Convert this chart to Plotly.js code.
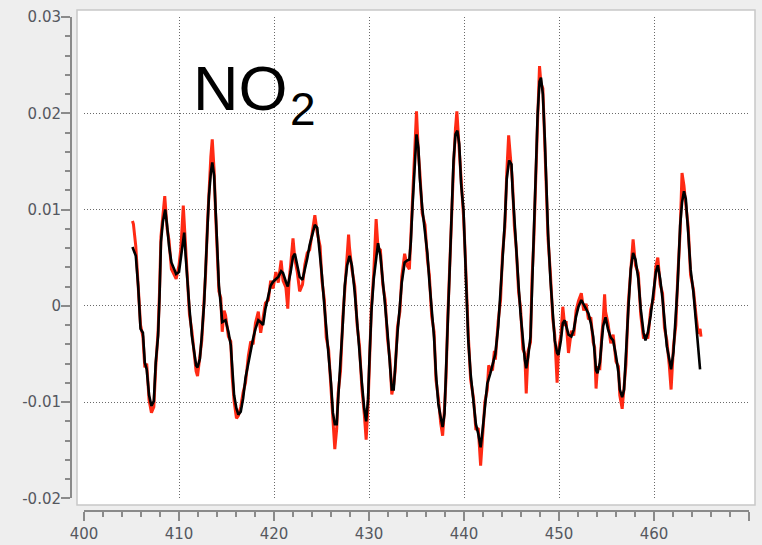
<!DOCTYPE html>
<html>
<head>
<meta charset="utf-8">
<script src="https://cdn.plot.ly/plotly-3.0.1.min.js"></script>
<style>
  html, body { margin: 0; padding: 0; background: #eeeeee; }
  #chart { width: 762px; height: 545px; }
</style>
</head>
<body>
<div id="chart"></div>
<script>
// NO2 differential optical depth: measured spectrum (red) and fitted reference (black)
const wlMeasured = [
  405.1, 405.2, 405.45, 405.7, 405.85, 405.95, 406.2, 406.4, 406.6, 406.85, 407.1, 407.35, 407.55, 407.8, 407.95,
  408.1, 408.3, 408.5, 408.75, 408.95, 409.2, 409.45, 409.7, 410.0, 410.2, 410.45, 410.6, 410.75, 410.9, 411.1,
  411.35, 411.6, 411.8, 411.95, 412.2, 412.4, 412.65, 412.8, 413.0, 413.15, 413.35, 413.5, 413.7, 413.85, 414.05,
  414.2, 414.4, 414.55, 414.75, 414.9, 415.2, 415.45, 415.6, 415.8, 416.05, 416.25, 416.5, 416.75, 417.0, 417.3,
  417.55, 417.8, 418.05, 418.35, 418.6, 418.85, 419.1, 419.4, 419.65, 419.9, 420.2, 420.45, 420.75, 420.95, 421.25,
  421.45, 421.6, 421.75, 422.0, 422.2, 422.45, 422.7, 423.0, 423.25, 423.5, 423.75, 424.05, 424.3, 424.55, 424.85,
  425.05, 425.3, 425.5, 425.75, 426.0, 426.2, 426.4, 426.6, 426.75, 427.0, 427.25, 427.45, 427.7, 427.85, 427.95,
  428.2, 428.5, 428.75, 429.0, 429.25, 429.5, 429.7, 429.9, 430.05, 430.25, 430.5, 430.75, 430.95, 431.2, 431.45,
  431.7, 431.95, 432.2, 432.4, 432.6, 432.75, 433.0, 433.25, 433.45, 433.75, 434.0, 434.25, 434.4, 434.55, 434.7,
  434.85, 435.0, 435.2, 435.35, 435.6, 435.9, 436.15, 436.35, 436.6, 436.85, 437.05, 437.3, 437.55, 437.75, 437.95,
  438.1, 438.3, 438.45, 438.7, 438.9, 439.1, 439.25, 439.5, 439.7, 439.95, 440.1, 440.3, 440.45, 440.7, 441.0,
  441.25, 441.5, 441.75, 441.95, 442.2, 442.45, 442.6, 442.75, 443.0, 443.2, 443.3, 443.6, 443.85, 444.05, 444.3,
  444.5, 444.7, 445.0, 445.1, 445.3, 445.5, 445.75, 445.95, 446.2, 446.4, 446.55, 446.75, 447.0, 447.15, 447.35,
  447.6, 447.75, 447.95, 448.1, 448.3, 448.5, 448.65, 448.85, 449.1, 449.35, 449.55, 449.8, 449.95, 450.2, 450.4,
  450.6, 450.75, 451.0, 451.3, 451.55, 451.8, 452.05, 452.35, 452.6, 452.85, 453.1, 453.35, 453.6, 453.75, 453.9,
  454.05, 454.3, 454.5, 454.65, 454.8, 454.9, 455.15, 455.45, 455.7, 456.0, 456.25, 456.4, 456.65, 456.85, 457.05,
  457.3, 457.55, 457.8, 458.05, 458.35, 458.6, 458.9, 459.1, 459.35, 459.65, 459.95, 460.2, 460.4, 460.65, 460.9,
  461.1, 461.35, 461.6, 461.8, 462.05, 462.3, 462.5, 462.75, 462.95, 463.15, 463.35, 463.6, 463.85, 464.15, 464.4,
  464.65, 464.85, 464.95
];
const odMeasured = [
  0.0088, 0.0085, 0.0062, 0.0025, -0.0008, -0.0020, -0.0032, -0.0064, -0.0060, -0.0098, -0.0111, -0.0105, -0.0064, -0.0026, 0.0015,
  0.0072, 0.0093, 0.0114, 0.0080, 0.0068, 0.0038, 0.0032, 0.0028, 0.0042, 0.0060, 0.0104, 0.0080, 0.0046, 0.0026, -0.0009,
  -0.0026, -0.0054, -0.0068, -0.0073, -0.0050, -0.0036, 0.0008, 0.0033, 0.0086, 0.0120, 0.0155, 0.0173, 0.0140, 0.0096, 0.0057,
  0.0015, 0.0008, -0.0027, -0.0005, -0.0010, -0.0032, -0.0037, -0.0074, -0.0099, -0.0117, -0.0114, -0.0105, -0.0090, -0.0080, -0.0052,
  -0.0037, -0.0040, -0.0018, -0.0006, -0.0028, -0.0014, 0.0003, 0.0006, 0.0026, 0.0018, 0.0035, 0.0024, 0.0047, 0.0026, 0.0019,
  -0.0003, 0.0028, 0.0042, 0.0070, 0.0048, 0.0035, 0.0015, 0.0022, 0.0043, 0.0055, 0.0058, 0.0079, 0.0094, 0.0076, 0.0062,
  0.0026, 0.0006, -0.0033, -0.0046, -0.0086, -0.0116, -0.0149, -0.0128, -0.0091, -0.0068, -0.0011, 0.0016, 0.0050, 0.0074, 0.0060,
  0.0038, 0.0020, -0.0020, -0.0042, -0.0086, -0.0112, -0.0139, -0.0103, -0.0049, -0.0002, 0.0034, 0.0090, 0.0060, 0.0058, 0.0022,
  0.0006, -0.0034, -0.0056, -0.0092, -0.0082, -0.0068, -0.0022, -0.0006, 0.0030, 0.0054, 0.0042, 0.0038, 0.0072, 0.0104, 0.0134,
  0.0164, 0.0202, 0.0158, 0.0139, 0.0096, 0.0084, 0.0048, 0.0032, -0.0011, -0.0027, -0.0077, -0.0096, -0.0122, -0.0135, -0.0106,
  -0.0077, -0.0010, 0.0027, 0.0108, 0.0145, 0.0184, 0.0202, 0.0162, 0.0132, 0.0093, 0.0060, 0.0003, -0.0030, -0.0077, -0.0096,
  -0.0129, -0.0127, -0.0166, -0.0136, -0.0100, -0.0087, -0.0062, -0.0065, -0.0067, -0.0047, -0.0056, -0.0016, 0.0006, 0.0053, 0.0082,
  0.0138, 0.0177, 0.0141, 0.0129, 0.0083, 0.0060, 0.0014, -0.0002, -0.0045, -0.0050, -0.0091, -0.0047, -0.0038, 0.0026, 0.0069,
  0.0157, 0.0193, 0.0249, 0.0231, 0.0226, 0.0169, 0.0129, 0.0069, 0.0033, -0.0014, -0.0030, -0.0080, -0.0045, -0.0030, -0.0001,
  -0.0021, -0.0016, -0.0049, -0.0026, -0.0031, -0.0005, 0.0005, 0.0013, -0.0005, 0.0002, -0.0014, -0.0012, -0.0038, -0.0043, -0.0086,
  -0.0064, -0.0065, -0.0031, -0.0015, 0.0012, -0.0006, -0.0018, -0.0039, -0.0030, -0.0058, -0.0063, -0.0093, -0.0107, -0.0081, -0.0061,
  0.0003, 0.0032, 0.0069, 0.0042, 0.0034, -0.0009, -0.0034, -0.0030, -0.0034, -0.0004, 0.0008, 0.0041, 0.0050, 0.0022, 0.0013,
  -0.0023, -0.0036, -0.0061, -0.0087, -0.0042, -0.0020, 0.0030, 0.0077, 0.0138, 0.0125, 0.0105, 0.0082, 0.0032, 0.0017, -0.0008,
  -0.0029, -0.0024, -0.0032
];

const wlFit = [
  405.1, 405.45, 405.7, 405.85, 405.95, 406.2, 406.4, 406.6, 406.85, 407.1, 407.35, 407.55, 407.8, 407.95, 408.1,
  408.3, 408.55, 408.75, 408.95, 409.2, 409.45, 409.7, 410.0, 410.2, 410.4, 410.55, 410.7, 410.9, 411.1, 411.35,
  411.6, 411.8, 411.95, 412.2, 412.4, 412.65, 412.8, 413.0, 413.15, 413.35, 413.5, 413.7, 413.85, 414.05, 414.2,
  414.4, 414.55, 414.9, 415.2, 415.45, 415.6, 415.8, 416.05, 416.25, 416.5, 416.75, 417.0, 417.3, 417.55, 417.8,
  418.05, 418.35, 418.6, 418.85, 419.1, 419.4, 419.65, 419.9, 420.2, 420.45, 420.75, 420.95, 421.25, 421.45, 421.75,
  422.0, 422.2, 422.45, 422.7, 423.0, 423.25, 423.5, 423.75, 424.05, 424.3, 424.55, 424.85, 425.05, 425.3, 425.5,
  425.75, 426.0, 426.2, 426.4, 426.6, 426.75, 427.0, 427.25, 427.45, 427.7, 427.95, 428.2, 428.5, 428.75, 429.0,
  429.25, 429.5, 429.7, 429.9, 430.05, 430.25, 430.5, 430.75, 430.95, 431.2, 431.45, 431.7, 431.95, 432.2, 432.4,
  432.6, 432.75, 433.0, 433.25, 433.45, 433.75, 434.0, 434.25, 434.4, 434.55, 434.7, 434.85, 435.0, 435.2, 435.35,
  435.6, 435.9, 436.15, 436.35, 436.6, 436.85, 437.05, 437.3, 437.55, 437.75, 437.95, 438.1, 438.3, 438.45, 438.7,
  438.9, 439.1, 439.3, 439.5, 439.7, 439.95, 440.1, 440.3, 440.45, 440.7, 441.0, 441.25, 441.5, 441.75, 441.95,
  442.2, 442.45, 442.75, 443.0, 443.3, 443.6, 443.85, 444.05, 444.3, 444.5, 444.75, 445.0, 445.1, 445.3, 445.5,
  445.75, 445.95, 446.2, 446.4, 446.55, 446.75, 447.0, 447.15, 447.35, 447.6, 447.75, 447.95, 448.1, 448.3, 448.5,
  448.65, 448.85, 449.1, 449.35, 449.55, 449.8, 449.95, 450.2, 450.4, 450.6, 450.75, 451.0, 451.3, 451.55, 451.8,
  452.05, 452.35, 452.6, 452.85, 453.1, 453.35, 453.6, 453.75, 453.9, 454.05, 454.3, 454.5, 454.65, 454.9, 455.15,
  455.45, 455.7, 456.0, 456.25, 456.4, 456.65, 456.85, 457.05, 457.3, 457.55, 457.8, 458.05, 458.35, 458.6, 458.9,
  459.1, 459.35, 459.65, 459.95, 460.2, 460.4, 460.65, 460.9, 461.1, 461.35, 461.6, 461.8, 462.05, 462.3, 462.5,
  462.75, 462.95, 463.15, 463.35, 463.6, 463.85, 464.15, 464.4, 464.65, 464.85
];
const odFit = [
  0.0061, 0.0052, 0.0021, -0.0003, -0.0024, -0.0028, -0.0059, -0.0066, -0.0093, -0.0104, -0.0099, -0.0059, -0.0031, 0.0010, 0.0066,
  0.0087, 0.0100, 0.0083, 0.0062, 0.0045, 0.0038, 0.0033, 0.0035, 0.0052, 0.0069, 0.0076, 0.0052, 0.0021, -0.0003, -0.0031,
  -0.0048, -0.0062, -0.0064, -0.0055, -0.0031, 0.0003, 0.0038, 0.0080, 0.0114, 0.0138, 0.0149, 0.0135, 0.0100, 0.0052, 0.0021,
  0.0001, -0.0017, -0.0015, -0.0027, -0.0041, -0.0069, -0.0093, -0.0107, -0.0113, -0.0110, -0.0096, -0.0075, -0.0058, -0.0044, -0.0034,
  -0.0024, -0.0015, -0.0017, -0.0020, -0.0003, 0.0011, 0.0021, 0.0025, 0.0028, 0.0030, 0.0036, 0.0034, 0.0025, 0.0020, 0.0035,
  0.0051, 0.0054, 0.0040, 0.0030, 0.0027, 0.0037, 0.0049, 0.0063, 0.0073, 0.0084, 0.0081, 0.0055, 0.0031, 0.0000, -0.0028,
  -0.0052, -0.0080, -0.0111, -0.0123, -0.0123, -0.0097, -0.0062, -0.0017, 0.0021, 0.0042, 0.0052, 0.0042, 0.0014, -0.0014, -0.0048,
  -0.0080, -0.0107, -0.0120, -0.0097, -0.0055, -0.0007, 0.0028, 0.0052, 0.0065, 0.0052, 0.0028, 0.0000, -0.0028, -0.0062, -0.0087,
  -0.0087, -0.0062, -0.0028, 0.0000, 0.0024, 0.0045, 0.0047, 0.0048, 0.0066, 0.0098, 0.0128, 0.0157, 0.0178, 0.0164, 0.0133,
  0.0102, 0.0078, 0.0054, 0.0026, -0.0005, -0.0033, -0.0071, -0.0102, -0.0116, -0.0126, -0.0112, -0.0071, -0.0016, 0.0033, 0.0102,
  0.0151, 0.0178, 0.0182, 0.0168, 0.0126, 0.0099, 0.0054, 0.0009, -0.0036, -0.0071, -0.0102, -0.0123, -0.0133, -0.0147, -0.0130,
  -0.0106, -0.0081, -0.0071, -0.0061, -0.0050, -0.0022, 0.0012, 0.0047, 0.0088, 0.0132, 0.0151, 0.0147, 0.0123, 0.0089, 0.0054,
  0.0020, -0.0008, -0.0039, -0.0056, -0.0065, -0.0053, -0.0032, 0.0020, 0.0075, 0.0151, 0.0199, 0.0233, 0.0237, 0.0220, 0.0175,
  0.0123, 0.0075, 0.0027, -0.0008, -0.0036, -0.0049, -0.0051, -0.0036, -0.0018, -0.0015, -0.0022, -0.0030, -0.0032, -0.0025, -0.0011,
  -0.0001, 0.0006, 0.0001, -0.0004, -0.0008, -0.0018, -0.0032, -0.0049, -0.0067, -0.0070, -0.0059, -0.0037, -0.0021, -0.0012, -0.0024,
  -0.0033, -0.0036, -0.0052, -0.0069, -0.0087, -0.0095, -0.0087, -0.0055, -0.0003, 0.0038, 0.0055, 0.0048, 0.0028, -0.0003, -0.0028,
  -0.0036, -0.0028, -0.0010, 0.0014, 0.0035, 0.0042, 0.0028, 0.0007, -0.0017, -0.0042, -0.0055, -0.0066, -0.0048, -0.0014, 0.0024,
  0.0083, 0.0107, 0.0119, 0.0111, 0.0076, 0.0038, 0.0014, -0.0014, -0.0035, -0.0066
];

// Axis ticks
const xRange = [400, 470];
const xTickStep = 10;
const xMinorStep = 2;
const yRange = [-0.02, 0.03];
const yTickVals = [-0.02, -0.01, 0, 0.01, 0.02, 0.03];
const yTickText = ['-0.02', '-0.01', '0', '0.01', '0.02', '0.03'];
const yMinorStep = 0.002;

const speciesLabel = 'NO';
const speciesSubscript = '2';

const axisGray = '#8a8a8a';
const tickFont = { family: 'DejaVu Sans, sans-serif', size: 15, color: '#55585f' };

// Pixel frame of the chart (762 x 545 canvas)
const W = 762, H = 545;
const M = { l: 71, r: 13, t: 17, b: 34 };
const plotW = W - M.l - M.r;   // paper width in px
const plotH = H - M.t - M.b;   // paper height in px
const px2x = p => (p - M.l) / plotW;
const px2y = p => (H - M.b - p) / plotH;

const traces = [
  {
    type: 'scatter', mode: 'lines', name: 'measured',
    x: wlMeasured, y: odMeasured,
    line: { color: '#ff2a14', width: 3 },
    hoverinfo: 'skip'
  },
  {
    type: 'scatter', mode: 'lines', name: 'fit',
    x: wlFit, y: odFit,
    line: { color: '#000000', width: 2.6 },
    hoverinfo: 'skip'
  }
];

const layout = {
  width: W, height: H,
  margin: M,
  paper_bgcolor: '#eeeeee',
  plot_bgcolor: '#ffffff',
  showlegend: false,
  xaxis: {
    range: xRange,
    domain: [px2x(84), 1],
    anchor: 'free', position: 0,
    dtick: xTickStep, tick0: 400,
    showline: true, linecolor: axisGray, linewidth: 2,
    ticks: 'outside', ticklen: 9, tickwidth: 2, tickcolor: axisGray,
    minor: { dtick: xMinorStep, tick0: 400, ticks: 'outside', ticklen: 5, tickwidth: 2, tickcolor: axisGray, showgrid: false },
    showgrid: true, gridcolor: '#6a6a6a', gridwidth: 1, griddash: '1px,2px',
    zeroline: false,
    tickfont: tickFont,
    fixedrange: true
  },
  yaxis: {
    range: yRange,
    domain: [px2y(498.3), 1],
    anchor: 'free', position: 0,
    tickmode: 'array', tickvals: yTickVals, ticktext: yTickText,
    showline: true, linecolor: axisGray, linewidth: 2,
    ticks: 'outside', ticklen: 9, tickwidth: 2, tickcolor: axisGray,
    minor: { dtick: yMinorStep, tick0: 0, ticks: 'outside', ticklen: 5, tickwidth: 2, tickcolor: axisGray, showgrid: false },
    showgrid: true, gridcolor: '#6a6a6a', gridwidth: 1, griddash: '1px,2px',
    zeroline: false,
    tickfont: tickFont,
    ticklabelstandoff: -3,
    fixedrange: true
  },
  shapes: [
    {
      type: 'rect', xref: 'paper', yref: 'paper', layer: 'below',
      x0: px2x(77), x1: px2x(755), y0: px2y(505), y1: px2y(10),
      fillcolor: '#ffffff', line: { color: '#c8c8c8', width: 1.5 }
    }
  ],
  annotations: [
    {
      xref: 'paper', yref: 'paper', x: px2x(191), y: px2y(88),
      xanchor: 'left', yanchor: 'middle', showarrow: false,
      text: speciesLabel,
      font: { family: 'Liberation Sans, Arial, sans-serif', size: 63, color: '#000000' }
    },
    {
      xref: 'paper', yref: 'paper', x: px2x(288), y: px2y(109),
      xanchor: 'left', yanchor: 'middle', showarrow: false,
      text: speciesSubscript,
      font: { family: 'Liberation Sans, Arial, sans-serif', size: 46, color: '#000000' }
    }
  ]
};

Plotly.newPlot('chart', traces, layout, { staticPlot: true, displayModeBar: false });
</script>
</body>
</html>
